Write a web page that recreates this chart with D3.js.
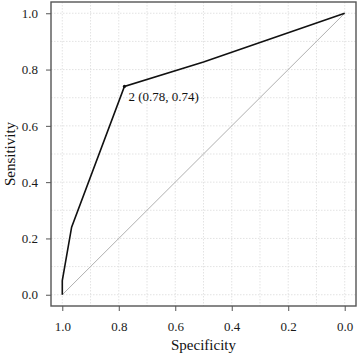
<!DOCTYPE html>
<meta charset="utf-8">
<style>
    body { margin: 0; background: #fff; }
    svg { display: block; font-family: "Liberation Serif", "Times New Roman", serif; }
    .grid line { stroke: #dcdcdc; stroke-width: 0.8; stroke-dasharray: 1.5 1.5; }
    .axis text { font-size: 13px; fill: #1a1a1a; }
    .axis line { stroke: #555; }
</style>
<script src="https://cdnjs.cloudflare.com/ajax/libs/d3/7.8.5/d3.min.js"></script>
<body>
<svg></svg>
</body>
<script>

    // ROC curve points (specificity, sensitivity)
    var specificity = [1.0, 1.0, 0.967, 0.78, 0.50, 0.0];
    var sensitivity = [0.0, 0.05, 0.24, 0.74, 0.827, 1.0];
    var tickValues = [0.0, 0.2, 0.4, 0.6, 0.8, 1.0];
    var minorValues = [0.1, 0.3, 0.5, 0.7, 0.9];
    var bestPoint = {spec: 0.78, sens: 0.74, label: "2 (0.78, 0.74)"};

    var width = 358, height = 353;
    var panel = {left: 51, right: 356, top: 2, bottom: 306};

    var svg = d3.select('svg')
            .attr('width', width)
            .attr('height', height);

    var x = d3.scaleLinear()
            .domain([1.04, -0.04])
            .range([panel.left, panel.right]);
    var y = d3.scaleLinear()
            .domain([-0.04, 1.04])
            .range([panel.bottom, panel.top]);

    // grid
    var grid = svg.append('g').attr('class', 'grid');
    grid.selectAll('.vx')
            .data(tickValues.concat(minorValues))
            .enter().append('line')
            .attr('x1', function (d) { return x(d); })
            .attr('x2', function (d) { return x(d); })
            .attr('y1', panel.top)
            .attr('y2', panel.bottom);
    grid.selectAll('.hy')
            .data(tickValues.concat(minorValues))
            .enter().append('line')
            .attr('y1', function (d) { return y(d); })
            .attr('y2', function (d) { return y(d); })
            .attr('x1', panel.left)
            .attr('x2', panel.right);

    // diagonal reference
    svg.append('line')
            .attr('x1', x(1)).attr('y1', y(0))
            .attr('x2', x(0)).attr('y2', y(1))
            .style('stroke', '#b0b0b0')
            .style('stroke-width', 1);

    // ROC line
    var pts = specificity.map(function (s, i) { return [s, sensitivity[i]]; });
    svg.append('path')
            .datum(pts)
            .attr('d', d3.line()
                    .x(function (d) { return x(d[0]); })
                    .y(function (d) { return y(d[1]); }))
            .style('fill', 'none')
            .style('stroke', '#111')
            .style('stroke-width', 1.6);

    svg.append('circle')
            .attr('cx', x(bestPoint.spec))
            .attr('cy', y(bestPoint.sens))
            .attr('r', 1.6)
            .style('fill', '#111');

    svg.append('text')
            .attr('x', x(bestPoint.spec) + 4)
            .attr('y', y(bestPoint.sens) + 15)
            .style('font-size', '13px')
            .style('fill', '#111')
            .text(bestPoint.label);

    // axes
    svg.append('g')
            .attr('class', 'axis')
            .attr('transform', 'translate(0,' + panel.bottom + ')')
            .call(d3.axisBottom(x).tickValues(tickValues).tickFormat(d3.format('.1f')).tickSize(5).tickPadding(11));
    svg.append('g')
            .attr('class', 'axis')
            .attr('transform', 'translate(' + panel.left + ',0)')
            .call(d3.axisLeft(y).tickValues(tickValues).tickFormat(d3.format('.1f')).tickSize(5).tickPadding(8));
    svg.selectAll('.axis .domain').remove();
    svg.selectAll('.axis text').style('font-family', '"Liberation Serif", serif');

    // panel border
    svg.append('rect')
            .attr('x', panel.left)
            .attr('y', panel.top)
            .attr('width', panel.right - panel.left)
            .attr('height', panel.bottom - panel.top)
            .style('fill', 'none')
            .style('stroke', '#555')
            .style('stroke-width', 1.4);

    // titles
    svg.append('text')
            .attr('x', (panel.left + panel.right) / 2)
            .attr('y', 350)
            .attr('text-anchor', 'middle')
            .style('font-size', '15px')
            .style('fill', '#111')
            .text('Specificity');
    svg.append('text')
            .attr('transform', 'translate(15,' + (panel.top + panel.bottom) / 2 + ') rotate(-90)')
            .attr('text-anchor', 'middle')
            .style('font-size', '15px')
            .style('fill', '#111')
            .text('Sensitivity');

</script>
</html>
